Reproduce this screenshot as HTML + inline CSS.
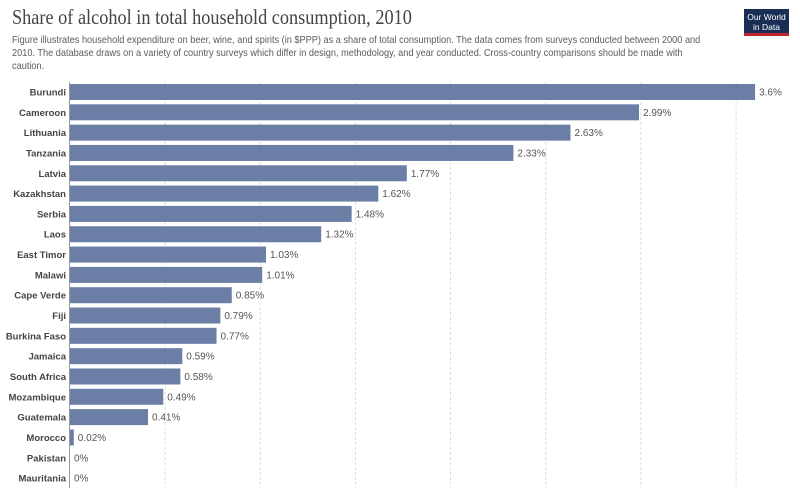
<!DOCTYPE html>
<html><head><meta charset="utf-8"><style>
body{margin:0;background:#fff;font-family:"Liberation Sans",sans-serif;}
#wrap{position:relative;width:800px;height:499px;overflow:hidden;}
h1{position:absolute;left:12px;top:5px;margin:0;font-family:"Liberation Serif",serif;font-weight:normal;font-size:21px;color:#444;transform:scaleX(0.87);transform-origin:left top;white-space:nowrap;}
#sub{position:absolute;left:12px;top:34px;width:810px;font-size:10.5px;line-height:13px;color:#5b5b5b;transform:scaleX(0.875);transform-origin:left top;}
#logo{position:absolute;left:744px;top:9px;width:45px;height:27px;background:#1a2e55;border-bottom:3px solid #c0262d;color:#fff;font-size:8.5px;line-height:10px;text-align:center;padding-top:3px;box-sizing:border-box;}
</style></head><body>
<div id="wrap">
<h1>Share of alcohol in total household consumption, 2010</h1>
<div id="sub">Figure illustrates household expenditure on beer, wine, and spirits (in $PPP) as a share of total consumption. The data comes from surveys conducted between 2000 and<br>2010. The database draws on a variety of country surveys which differ in design, methodology, and year conducted. Cross-country comparisons should be made with<br>caution.</div>
<div id="logo">Our World<br>in Data</div>
<svg id="chart" width="800" height="499" style="position:absolute;left:0;top:0"></svg>
</div>
<script>
const countries=["Burundi","Cameroon","Lithuania","Tanzania","Latvia","Kazakhstan","Serbia","Laos","East Timor","Malawi","Cape Verde","Fiji","Burkina Faso","Jamaica","South Africa","Mozambique","Guatemala","Morocco","Pakistan","Mauritania"];
const values=[3.6,2.99,2.63,2.33,1.77,1.62,1.48,1.32,1.03,1.01,0.85,0.79,0.77,0.59,0.58,0.49,0.41,0.02,0,0];
const labels=["3.6%","2.99%","2.63%","2.33%","1.77%","1.62%","1.48%","1.32%","1.03%","1.01%","0.85%","0.79%","0.77%","0.59%","0.58%","0.49%","0.41%","0.02%","0%","0%"];
const gridTicks=[0.5,1,1.5,2,2.5,3,3.5];
const svg=document.getElementById('chart');
const NS='http://www.w3.org/2000/svg';
const x0=70,scale=190.3,y0=92,pitch=20.32,bh=16;
const X=v=>x0+v*scale, Y=i=>y0+i*pitch;
function mk(t,a){const e=document.createElementNS(NS,t);for(const k in a)e.setAttribute(k,a[k]);svg.appendChild(e);return e;}
gridTicks.forEach(t=>{
 const g=mk('line',{x1:X(t),x2:X(t),y1:82,y2:488,stroke:'#ddd','stroke-dasharray':'3,2'});
 
 
});
countries.forEach((c,i)=>{
 const cy=Y(i);
 const w=values[i]>0?Math.max(values[i]*scale,3):0;
 if(w>0){
  const r=mk('rect',{x:x0,y:cy-bh/2,width:w,height:bh,fill:'#6a7ea6'});
  
  
 }
 const l=mk('text',{x:66,y:cy+3.5,'text-anchor':'end','font-size':'9.5','font-weight':'bold',fill:'#444','font-family':'Liberation Sans, sans-serif'});
 l.textContent=c;
 
 
 const v=mk('text',{x:x0+w+4,y:cy+3.5,'font-size':'10',fill:'#555','font-family':'Liberation Sans, sans-serif'});
 v.textContent=labels[i];
 
 
});
const ax=mk('line',{x1:69.5,x2:69.5,y1:82,y2:488,stroke:'#999','stroke-width':1});


</script>
</body></html>
